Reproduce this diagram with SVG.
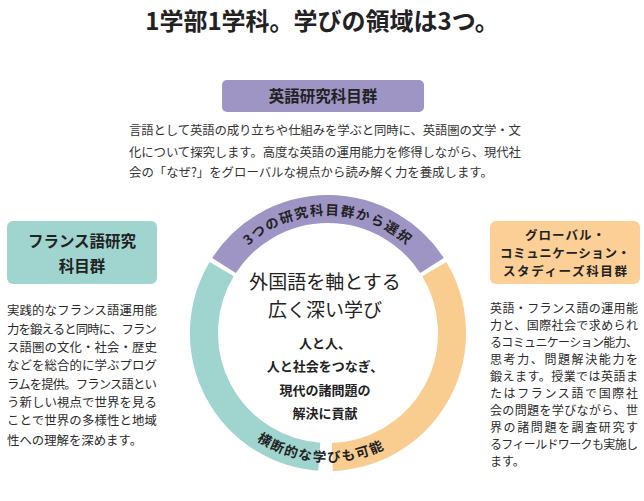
<svg xmlns="http://www.w3.org/2000/svg" width="644" height="501" viewBox="0 0 644 501">
<style>
text{font-family:"Noto Sans CJK JP",sans-serif;fill:#2b2b2b}
.t{font-size:24px;font-weight:bold;fill:#222}
.h{font-size:15.5px;font-weight:bold;fill:#222;text-anchor:middle}
.g{font-size:12.5px;font-weight:bold;fill:#222;text-anchor:middle}
.p{font-size:12.4px;fill:#333}
.r{font-size:13.5px;font-weight:bold;fill:#222;letter-spacing:1.5px}
.c1{font-size:19px;text-anchor:middle;fill:#222}
.c2{font-size:13px;font-weight:bold;text-anchor:middle;fill:#222}
.seg{fill:none;stroke-width:28}
</style>
<defs>
<path id="tp" d="M225.8,274 A118,118 0 0 1 430.2,274"/>
<path id="bp" d="M216.3,397.5 A129,129 0 0 0 439.7,397.5"/>
</defs>
<text class="t" x="322" y="30" text-anchor="middle">1学部1学科。学びの領域は3つ。</text>
<g id="english">
<rect x="222" y="80" width="202" height="32" rx="5" fill="#9e95c5"/>
<text class="h" x="323" y="102">英語研究科目群</text>
<text class="p" x="129" y="135" textLength="392">言語として英語の成り立ちや仕組みを学ぶと同時に、英語圏の文学・文</text>
<text class="p" x="129" y="157" textLength="392">化について探究します。高度な英語の運用能力を修得しながら、現代社</text>
<text class="p" x="129" y="177">会の「なぜ?」をグローバルな視点から読み解く力を養成します。</text>
</g>
<g id="french">
<rect x="7" y="221" width="150" height="63" rx="6" fill="#9fd4cf"/>
<text class="h" x="82" y="247">フランス語研究</text>
<text class="h" x="82" y="272">科目群</text>
<g class="p">
<text x="7" y="315" textLength="150">実践的なフランス語運用能</text>
<text x="7" y="334" textLength="150">力を鍛えると同時に、フラン</text>
<text x="7" y="352" textLength="150">ス語圏の文化・社会・歴史</text>
<text x="7" y="370" textLength="150">などを総合的に学ぶプログ</text>
<text x="7" y="389" textLength="150">ラムを提供。フランス語とい</text>
<text x="7" y="407" textLength="150">う新しい視点で世界を見る</text>
<text x="7" y="425" textLength="150">ことで世界の多様性と地域</text>
<text x="7" y="445">性への理解を深めます。</text>
</g>
</g>
<g id="global">
<rect x="490" y="221" width="150" height="63" rx="6" fill="#fbcf95"/>
<text class="g" x="565" y="240" textLength="80">グローバル・</text>
<text class="g" x="565" y="258" textLength="130">コミュニケーション・</text>
<text class="g" x="565" y="276" textLength="124">スタディーズ科目群</text>
<g class="p" style="font-size:12px">
<text x="490" y="313" textLength="148">英語・フランス語の運用能</text>
<text x="490" y="330" textLength="148">力と、国際社会で求められ</text>
<text x="490" y="347" textLength="148">るコミュニケーション能力、</text>
<text x="490" y="364" textLength="148">思考力、問題解決能力を</text>
<text x="490" y="381" textLength="148">鍛えます。授業では英語ま</text>
<text x="490" y="398" textLength="148">たはフランス語で国際社</text>
<text x="490" y="415" textLength="148">会の問題を学びながら、世</text>
<text x="490" y="432" textLength="148">界の諸問題を調査研究す</text>
<text x="490" y="449" textLength="148">るフィールドワークも実施し</text>
<text x="490" y="466">ます。</text>
</g>
</g>
<g id="ring">
<path class="seg" stroke="#9e95c5" d="M224,265.5 A124,124 0 0 1 432,265.5"/>
<path class="seg" stroke="#f9cc8f" d="M434.3,269.1 A124,124 0 0 1 332.3,456.9"/>
<path class="seg" stroke="#9fd4cf" d="M319.3,456.7 A124,124 0 0 1 221.7,269.1"/>
<text class="r"><textPath href="#tp" startOffset="50%" text-anchor="middle">3つの研究科目群から選択</textPath></text>
<text class="r"><textPath href="#bp" startOffset="47%" text-anchor="middle">横断的な学びも可能</textPath></text>
</g>
<g id="center">
<text class="c1" x="325" y="289">外国語を軸とする</text>
<text class="c1" x="325" y="317">広く深い学び</text>
<text class="c2" x="325" y="348">人と人、</text>
<text class="c2" x="325" y="371">人と社会をつなぎ、</text>
<text class="c2" x="325" y="395">現代の諸問題の</text>
<text class="c2" x="325" y="418">解決に貢献</text>
</g>
</svg>
